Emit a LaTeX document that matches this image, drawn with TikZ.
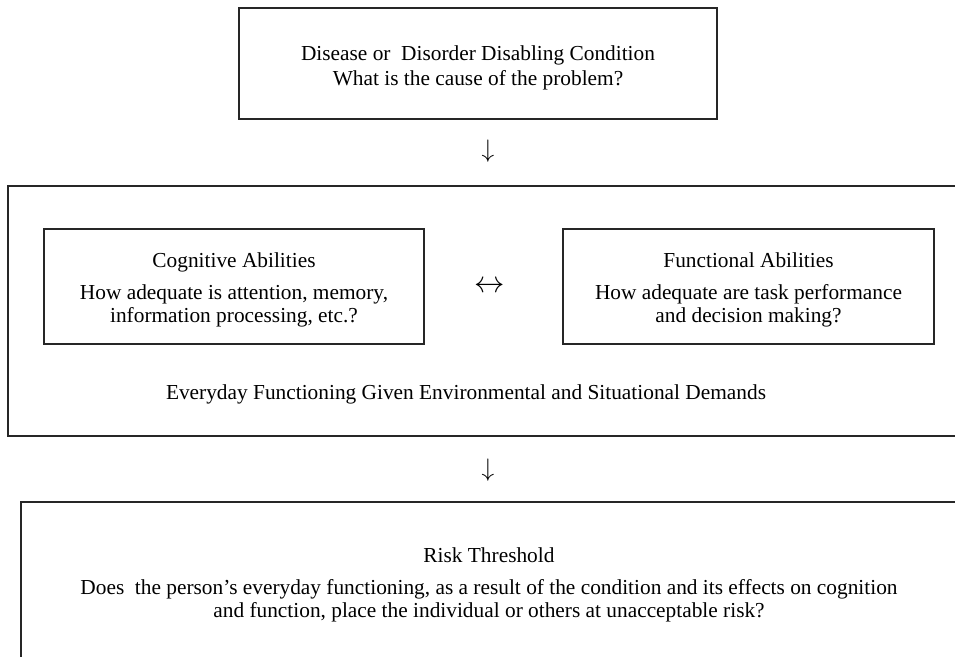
\documentclass[tikz,border=0pt]{standalone}
\usepackage{fontspec}
\setmainfont{Liberation Serif}
\usepackage{tikz}

\begin{document}
\begin{tikzpicture}[x=0.02cm, y=-0.02cm,
		frame/.style={draw=black!85, line width=0.75pt, rectangle, inner sep=0pt},
		words/.style={align=center, inner sep=0pt, font=\fontsize{12.15}{13.2}\selectfont},
		sign/.style={inner sep=0pt, font=\fontsize{15.5}{15.5}\selectfont}]
			%%%%% START %%%%%
			
			\useasboundingbox (0, 0) rectangle (955, 656);
			\clip (0, 0) rectangle (955, 656);
			
			\node[frame, minimum width=9.56cm, minimum height=2.22cm] (cause) at (478, 63.5) {};
			\node[words] (causetext) at (478, 68) {Disease or\ \ Disorder Disabling Condition\\[1pt] What is the cause of the problem?};
			
			\node[sign] (down1) at (488, 151) {$\downarrow$};
			
			\node[frame, minimum width=19.34cm, minimum height=5cm] (everyday) at (491.5, 311) {};
			
			\node[frame, minimum width=7.6cm, minimum height=2.3cm] (cognitive) at (234, 286.5) {};
			\node[words] at (234, 289.5) {Cognitive Abilities\\[5pt] How adequate is attention, memory,\\ information processing, etc.?};
			
			\node[sign, font=\fontsize{17.5}{17.5}\selectfont] (both) at (490, 287) {$\leftrightarrow$};
			
			\node[frame, minimum width=7.42cm, minimum height=2.3cm] (functional) at (748.5, 286.5) {};
			\node[words] at (748.5, 289.5) {Functional Abilities\\[5pt] How adequate are task performance\\ and decision making?};
			
			\node[words] (demands) at (466, 394) {Everyday Functioning Given Environmental and Situational Demands};
			
			\node[sign] (down2) at (488, 470) {$\downarrow$};
			
			\node[frame, minimum width=19.38cm, minimum height=3.2cm] (risk) at (505.5, 582) {};
			\node[words] at (489, 585) {Risk Threshold\\[5pt] Does\ \ the person’s everyday functioning, as a result of the condition and its effects on cognition\\ and function, place the individual or others at unacceptable risk?};
			
			%%%%% END %%%%%
		\end{tikzpicture}
\end{document}
